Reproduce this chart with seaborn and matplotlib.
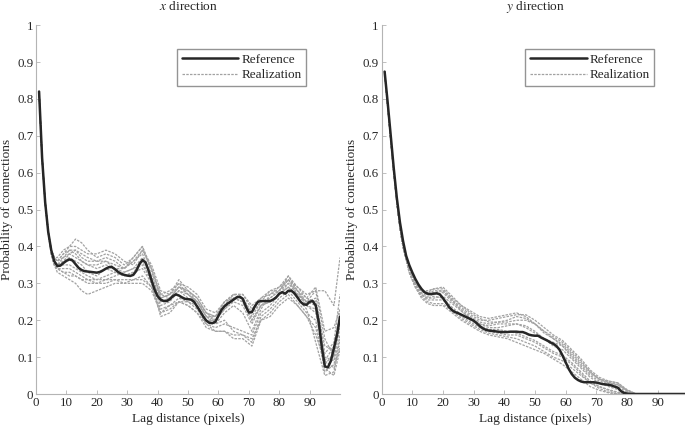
import numpy as np
import pandas as pd
import seaborn as sns
import matplotlib
matplotlib.use('Agg')
import matplotlib.pyplot as plt
from matplotlib.lines import Line2D

# ---- data ----
ref_lags = list(range(1, 101))

ref_x = [0.82, 0.64, 0.52, 0.44, 0.39, 0.36, 0.347, 0.348, 0.355, 0.361,
         0.365, 0.362, 0.352, 0.342, 0.336, 0.333, 0.332, 0.331, 0.330, 0.329,
         0.331, 0.335, 0.340, 0.344, 0.344, 0.338, 0.331, 0.326, 0.323, 0.321,
         0.320, 0.323, 0.334, 0.352, 0.363, 0.357, 0.335, 0.308, 0.283, 0.265,
         0.256, 0.252, 0.252, 0.257, 0.265, 0.270, 0.267, 0.262, 0.258, 0.257,
         0.256, 0.250, 0.237, 0.224, 0.210, 0.199, 0.193, 0.192, 0.196, 0.212,
         0.228, 0.238, 0.245, 0.250, 0.256, 0.262, 0.264, 0.258, 0.238, 0.221,
         0.222, 0.238, 0.250, 0.252, 0.252, 0.252, 0.252, 0.256, 0.262, 0.272,
         0.276, 0.272, 0.280, 0.280, 0.273, 0.262, 0.250, 0.243, 0.242, 0.250,
         0.252, 0.240, 0.195, 0.128, 0.075, 0.072, 0.090, 0.125, 0.160, 0.210]

ref_y = [0.874, 0.79, 0.70, 0.61, 0.53, 0.465, 0.415, 0.375, 0.350, 0.330,
         0.312, 0.297, 0.285, 0.276, 0.272, 0.271, 0.272, 0.273, 0.270, 0.260,
         0.248, 0.236, 0.227, 0.222, 0.219, 0.215, 0.211, 0.207, 0.203, 0.199,
         0.192, 0.184, 0.178, 0.174, 0.172, 0.171, 0.170, 0.169, 0.168, 0.168,
         0.168, 0.169, 0.169, 0.169, 0.168, 0.168, 0.165, 0.161, 0.159, 0.158,
         0.158, 0.153, 0.149, 0.145, 0.140, 0.136, 0.130, 0.120, 0.104, 0.086,
         0.068, 0.054, 0.044, 0.038, 0.034, 0.032, 0.032, 0.032, 0.032, 0.031,
         0.029, 0.027, 0.026, 0.025, 0.023, 0.020, 0.017, 0.008, 0.003, 0.001,
         0, 0, 0, 0, 0, 0, 0, 0, 0, 0,
         0, 0, 0, 0, 0, 0, 0, 0, 0, 0]

real_lags = [1, 2, 3, 4, 5, 6, 7, 9, 11, 13, 15, 17, 20, 23, 26, 29, 32, 35, 38, 41,
             44, 47, 50, 53, 56, 59, 62, 65, 68, 71, 74, 77, 80, 83, 86, 89, 92, 95, 98, 100]

real_x = [
    [0.82, 0.64, 0.52, 0.44, 0.39, 0.37, 0.36, 0.38, 0.40, 0.42, 0.41, 0.39, 0.37, 0.38, 0.37, 0.35, 0.37, 0.40, 0.33, 0.27,
     0.28, 0.30, 0.29, 0.27, 0.23, 0.22, 0.25, 0.27, 0.27, 0.24, 0.26, 0.27, 0.29, 0.31, 0.28, 0.26, 0.25, 0.13, 0.12, 0.20],
    [0.82, 0.64, 0.52, 0.44, 0.39, 0.37, 0.37, 0.39, 0.40, 0.40, 0.39, 0.38, 0.38, 0.39, 0.38, 0.36, 0.35, 0.39, 0.35, 0.28,
     0.27, 0.31, 0.28, 0.26, 0.22, 0.21, 0.24, 0.26, 0.26, 0.21, 0.25, 0.26, 0.28, 0.32, 0.29, 0.27, 0.28, 0.15, 0.10, 0.18],
    [0.82, 0.64, 0.52, 0.44, 0.39, 0.36, 0.35, 0.37, 0.39, 0.39, 0.37, 0.36, 0.36, 0.37, 0.36, 0.34, 0.36, 0.38, 0.32, 0.26,
     0.27, 0.29, 0.27, 0.25, 0.21, 0.21, 0.25, 0.26, 0.25, 0.20, 0.24, 0.25, 0.27, 0.30, 0.27, 0.25, 0.24, 0.09, 0.13, 0.22],
    [0.82, 0.64, 0.52, 0.44, 0.38, 0.35, 0.33, 0.32, 0.31, 0.30, 0.28, 0.27, 0.28, 0.29, 0.30, 0.30, 0.30, 0.30, 0.28, 0.22,
     0.24, 0.25, 0.24, 0.22, 0.19, 0.17, 0.17, 0.16, 0.16, 0.14, 0.21, 0.23, 0.26, 0.28, 0.25, 0.22, 0.20, 0.06, 0.08, 0.16],
    [0.82, 0.64, 0.52, 0.44, 0.38, 0.35, 0.34, 0.33, 0.33, 0.32, 0.31, 0.31, 0.30, 0.30, 0.31, 0.31, 0.31, 0.31, 0.29, 0.23,
     0.24, 0.26, 0.25, 0.23, 0.19, 0.18, 0.19, 0.18, 0.17, 0.16, 0.22, 0.24, 0.27, 0.29, 0.26, 0.23, 0.14, 0.05, 0.06, 0.15],
    [0.82, 0.64, 0.52, 0.44, 0.39, 0.36, 0.35, 0.36, 0.37, 0.36, 0.35, 0.33, 0.32, 0.34, 0.33, 0.32, 0.33, 0.36, 0.30, 0.24,
     0.25, 0.28, 0.26, 0.24, 0.20, 0.20, 0.23, 0.25, 0.24, 0.19, 0.24, 0.25, 0.27, 0.29, 0.27, 0.25, 0.28, 0.28, 0.24, 0.37],
    [0.82, 0.64, 0.52, 0.44, 0.39, 0.36, 0.35, 0.35, 0.35, 0.34, 0.33, 0.32, 0.31, 0.31, 0.32, 0.33, 0.34, 0.35, 0.31, 0.25,
     0.26, 0.29, 0.28, 0.25, 0.21, 0.19, 0.22, 0.24, 0.22, 0.17, 0.23, 0.27, 0.28, 0.30, 0.28, 0.24, 0.22, 0.10, 0.09, 0.21],
    [0.82, 0.64, 0.52, 0.44, 0.39, 0.37, 0.36, 0.38, 0.39, 0.38, 0.36, 0.35, 0.35, 0.36, 0.35, 0.34, 0.36, 0.39, 0.34, 0.27,
     0.26, 0.29, 0.28, 0.26, 0.22, 0.20, 0.24, 0.27, 0.26, 0.22, 0.25, 0.28, 0.29, 0.32, 0.28, 0.25, 0.26, 0.11, 0.14, 0.27],
    [0.82, 0.64, 0.52, 0.44, 0.38, 0.35, 0.34, 0.34, 0.34, 0.33, 0.32, 0.31, 0.31, 0.32, 0.33, 0.32, 0.33, 0.34, 0.30, 0.21,
     0.22, 0.25, 0.25, 0.24, 0.20, 0.19, 0.20, 0.17, 0.16, 0.15, 0.20, 0.22, 0.25, 0.27, 0.24, 0.21, 0.18, 0.07, 0.05, 0.12],
    [0.82, 0.64, 0.52, 0.44, 0.39, 0.36, 0.35, 0.36, 0.38, 0.37, 0.36, 0.35, 0.34, 0.35, 0.34, 0.33, 0.34, 0.37, 0.32, 0.25,
     0.26, 0.28, 0.27, 0.25, 0.21, 0.20, 0.23, 0.26, 0.25, 0.20, 0.24, 0.26, 0.28, 0.31, 0.27, 0.24, 0.23, 0.08, 0.11, 0.19],
    [0.82, 0.64, 0.52, 0.44, 0.39, 0.37, 0.36, 0.37, 0.38, 0.39, 0.38, 0.37, 0.36, 0.36, 0.34, 0.34, 0.37, 0.40, 0.34, 0.26,
     0.27, 0.30, 0.27, 0.25, 0.22, 0.21, 0.25, 0.27, 0.27, 0.23, 0.26, 0.28, 0.28, 0.31, 0.29, 0.26, 0.29, 0.17, 0.18, 0.23],
    [0.82, 0.64, 0.52, 0.44, 0.38, 0.35, 0.34, 0.33, 0.32, 0.32, 0.31, 0.30, 0.30, 0.31, 0.31, 0.30, 0.31, 0.32, 0.29, 0.22,
     0.23, 0.25, 0.24, 0.22, 0.18, 0.17, 0.17, 0.15, 0.15, 0.13, 0.20, 0.21, 0.24, 0.26, 0.24, 0.21, 0.16, 0.09, 0.07, 0.13],
]

real_y = [
    [0.874, 0.78, 0.69, 0.60, 0.52, 0.45, 0.40, 0.34, 0.30, 0.28, 0.28, 0.285, 0.285, 0.26, 0.24, 0.225, 0.21, 0.205, 0.21, 0.215,
     0.22, 0.21, 0.19, 0.17, 0.15, 0.13, 0.105, 0.08, 0.055, 0.04, 0.035, 0.03, 0.012, 0, 0, 0, 0, 0, 0, 0],
    [0.874, 0.78, 0.69, 0.60, 0.52, 0.45, 0.40, 0.33, 0.29, 0.265, 0.25, 0.245, 0.245, 0.225, 0.205, 0.19, 0.175, 0.165, 0.16, 0.155,
     0.15, 0.14, 0.13, 0.115, 0.10, 0.09, 0.07, 0.05, 0.03, 0.015, 0.005, 0, 0, 0, 0, 0, 0, 0, 0, 0],
    [0.874, 0.78, 0.69, 0.60, 0.52, 0.45, 0.40, 0.34, 0.30, 0.275, 0.265, 0.27, 0.275, 0.25, 0.23, 0.21, 0.195, 0.19, 0.195, 0.20,
     0.21, 0.205, 0.19, 0.17, 0.155, 0.14, 0.115, 0.09, 0.06, 0.04, 0.032, 0.025, 0.008, 0, 0, 0, 0, 0, 0, 0],
    [0.874, 0.78, 0.69, 0.60, 0.52, 0.45, 0.40, 0.33, 0.29, 0.27, 0.26, 0.265, 0.26, 0.235, 0.215, 0.20, 0.185, 0.175, 0.175, 0.17,
     0.165, 0.155, 0.145, 0.13, 0.115, 0.105, 0.085, 0.06, 0.035, 0.02, 0.01, 0.003, 0, 0, 0, 0, 0, 0, 0, 0],
    [0.874, 0.78, 0.69, 0.60, 0.52, 0.45, 0.40, 0.34, 0.30, 0.28, 0.27, 0.28, 0.28, 0.255, 0.235, 0.215, 0.20, 0.20, 0.205, 0.21,
     0.215, 0.215, 0.20, 0.18, 0.16, 0.145, 0.12, 0.095, 0.065, 0.045, 0.035, 0.03, 0.01, 0, 0, 0, 0, 0, 0, 0],
    [0.874, 0.78, 0.69, 0.60, 0.52, 0.45, 0.40, 0.33, 0.29, 0.26, 0.245, 0.24, 0.24, 0.22, 0.20, 0.185, 0.17, 0.16, 0.155, 0.15,
     0.14, 0.13, 0.12, 0.11, 0.095, 0.08, 0.06, 0.04, 0.02, 0.01, 0.003, 0, 0, 0, 0, 0, 0, 0, 0, 0],
    [0.874, 0.78, 0.69, 0.60, 0.52, 0.45, 0.40, 0.34, 0.30, 0.28, 0.275, 0.285, 0.29, 0.265, 0.24, 0.22, 0.205, 0.195, 0.195, 0.195,
     0.20, 0.20, 0.19, 0.165, 0.15, 0.135, 0.11, 0.085, 0.06, 0.04, 0.03, 0.025, 0.01, 0, 0, 0, 0, 0, 0, 0],
    [0.874, 0.78, 0.69, 0.60, 0.52, 0.45, 0.40, 0.335, 0.295, 0.27, 0.255, 0.255, 0.255, 0.23, 0.21, 0.195, 0.18, 0.17, 0.165, 0.16,
     0.16, 0.15, 0.14, 0.125, 0.11, 0.10, 0.08, 0.055, 0.03, 0.02, 0.012, 0.005, 0, 0, 0, 0, 0, 0, 0, 0],
    [0.874, 0.78, 0.69, 0.60, 0.52, 0.45, 0.40, 0.335, 0.295, 0.27, 0.26, 0.26, 0.265, 0.245, 0.225, 0.205, 0.19, 0.18, 0.18, 0.185,
     0.19, 0.18, 0.165, 0.15, 0.13, 0.12, 0.095, 0.07, 0.045, 0.03, 0.02, 0.012, 0.003, 0, 0, 0, 0, 0, 0, 0],
    [0.874, 0.78, 0.69, 0.60, 0.52, 0.45, 0.40, 0.34, 0.30, 0.28, 0.27, 0.275, 0.28, 0.255, 0.225, 0.205, 0.19, 0.185, 0.19, 0.19,
     0.19, 0.185, 0.17, 0.15, 0.14, 0.13, 0.10, 0.075, 0.05, 0.035, 0.028, 0.02, 0.005, 0, 0, 0, 0, 0, 0, 0],
]

x_ticks = [0, 10, 20, 30, 40, 50, 60, 70, 80, 90]
y_ticks = [0, 0.1, 0.2, 0.3, 0.4, 0.5, 0.6, 0.7, 0.8, 0.9, 1]
y_labels = ['0', '0.1', '0.2', '0.3', '0.4', '0.5', '0.6', '0.7', '0.8', '0.9', '1']

# ---- style ----
sns.set_theme(style='ticks')
plt.rcParams['font.family'] = ['Liberation Serif', 'DejaVu Serif']
plt.rcParams['mathtext.fontset'] = 'stix'
plt.rcParams['xtick.direction'] = 'in'
plt.rcParams['ytick.direction'] = 'in'

REAL_COL = '#a2a2a2'
REF_COL = '#262626'
SPINE_COL = '#b4b4b4'

fig = plt.figure(figsize=(6.85, 4.25), dpi=100)
ax1 = fig.add_axes([0.0526, 0.0729, 0.4438, 0.868])
ax2 = fig.add_axes([0.557, 0.0729, 0.448, 0.868])

panels = [(ax1, real_x, ref_x, '$x$ direction'),
          (ax2, real_y, ref_y, '$y$ direction')]

for ax, reals, ref, title in panels:
    df = pd.DataFrame({
        'lag': np.tile(real_lags, len(reals)),
        'p': np.concatenate(reals),
        'run': np.repeat(np.arange(len(reals)), len(real_lags)),
    })
    sns.lineplot(data=df, x='lag', y='p', units='run', estimator=None, ax=ax,
                 color=REAL_COL, linewidth=0.9, linestyle=(0, (2, 1)))
    sns.lineplot(x=ref_lags, y=ref, ax=ax, color=REF_COL, linewidth=1.8)

    ax.set_xlim(0, 100)
    ax.set_ylim(0, 1)
    ax.set_xticks(x_ticks)
    ax.set_yticks(y_ticks)
    ax.set_yticklabels(y_labels)
    ax.tick_params(labelsize=9.3, length=3, width=0.6, color=SPINE_COL, pad=2)
    for s in ['top', 'right']:
        ax.spines[s].set_visible(False)
    for s in ['left', 'bottom']:
        ax.spines[s].set_color(SPINE_COL)
        ax.spines[s].set_linewidth(0.8)
    ax.set_xlabel('Lag distance (pixels)', fontsize=9.6, labelpad=3)
    ax.set_ylabel('Probability of connections', fontsize=9.6, labelpad=3)
    ax.set_title(title, fontsize=9.6, pad=11)

    handles = [Line2D([], [], color=REF_COL, linewidth=1.8),
               Line2D([], [], color=REAL_COL, linewidth=0.9, linestyle=(0, (2, 1)))]
    leg = ax.legend(handles, ['Reference', 'Realization'], loc='upper right',
                    bbox_to_anchor=(0.888, 0.935), borderaxespad=0, fontsize=9.5,
                    frameon=True, fancybox=False, handlelength=4.3, handletextpad=0.2,
                    borderpad=0.35, labelspacing=0.25)
    leg.get_frame().set_edgecolor('#7a7a7a')
    leg.get_frame().set_linewidth(1.0)

fig.savefig('out.png', dpi=100)
